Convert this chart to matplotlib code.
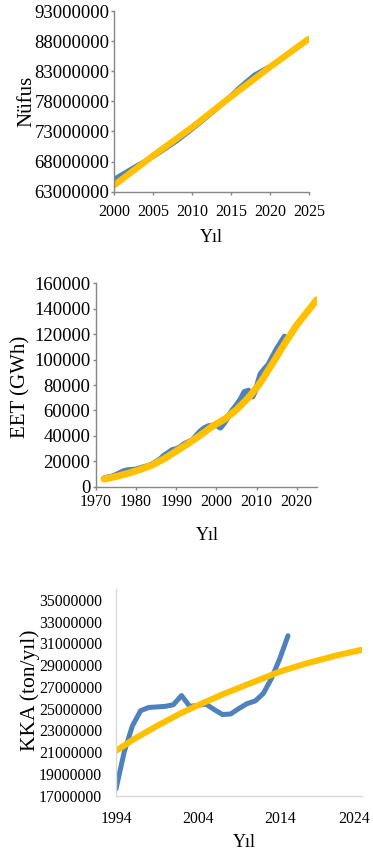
import numpy as np
import matplotlib
matplotlib.use('Agg')
import matplotlib.pyplot as plt
from matplotlib.transforms import ScaledTranslation

plt.rcParams['font.family'] = ['Liberation Serif', 'DejaVu Serif']

BLUE = '#4F81BD'
YELLOW = '#FFC000'

# ---------------- data ----------------
# Panel 1: Nüfus
pop_years = [2000, 2003, 2005, 2008, 2010, 2012, 2014, 2016, 2018, 2020, 2022, 2025]
pop_actual = [65.1e6, 67.4e6, 68.8e6, 71.4e6, 73.4e6, 75.5e6, 77.7e6, 80.2e6, 82.4e6, 83.8e6, 85.6e6, 88.3e6]
pop_fit_years = [2000, 2005, 2010, 2015, 2020, 2025]
pop_fit = [64.1e6, 69.0e6, 73.7e6, 78.8e6, 83.7e6, 88.4e6]

# Panel 2: EET (GWh)
eet_years = list(range(1972, 2018))
eet_actual = [6500, 7300, 8000, 9200, 10800, 12300, 13000, 13200, 13600, 14500,
              15500, 16200, 17600, 19500, 21500, 24500, 26500, 28800, 29500, 31000,
              33500, 35000, 36500, 40000, 43500, 46000, 47500, 48000, 48500, 46500,
              50500, 55500, 60000, 64000, 68500, 74500, 75500, 71000, 78000, 88500,
              92500, 96000, 102000, 108000, 113000, 118000]
eet_fit_years = [1972, 1975, 1978, 1981, 1984, 1987, 1990, 1993, 1996, 1999,
                 2002, 2005, 2008, 2011, 2014, 2017, 2020, 2025]
eet_fit = [6000, 8000, 10500, 13500, 17000, 22000, 28000, 34000, 40500, 47500,
           53000, 60500, 70000, 82000, 97000, 112500, 127000, 147000]

# Panel 3: KKA (ton/yıl)
kka_years = list(range(1994, 2016))
kka_actual = [17.6e6, 21.0e6, 23.4e6, 24.8e6, 25.1e6, 25.15e6, 25.2e6, 25.35e6,
              26.2e6, 25.2e6, 25.3e6, 25.4e6, 24.9e6, 24.45e6, 24.5e6, 25.0e6,
              25.45e6, 25.7e6, 26.4e6, 27.8e6, 29.6e6, 31.7e6]
kka_fit_years = [1994, 1996, 1999, 2002, 2004, 2007, 2009, 2012, 2014, 2017, 2019, 2021, 2024]
kka_fit = [21.1e6, 22.1e6, 23.4e6, 24.6e6, 25.3e6, 26.3e6, 26.9e6, 27.8e6, 28.4e6,
           29.1e6, 29.5e6, 29.9e6, 30.4e6]

W, H = 373, 852
fig = plt.figure(figsize=(W / 100, H / 100), dpi=100)


def px_axes(left, top, right, bottom):
    return fig.add_axes([left / W, 1 - bottom / H, (right - left) / W, (bottom - top) / H])


def style(ax, spine_color, ticks=True):
    for s in ['top', 'right']:
        ax.spines[s].set_visible(False)
    for s in ['left', 'bottom']:
        ax.spines[s].set_color(spine_color)
        ax.spines[s].set_linewidth(1.0)
    ax.tick_params(direction='out', color=spine_color, length=2.5 if ticks else 0, width=1.0)


def plot_pair(ax, x1, y1, x2, y2, lw1, lw2):
    kw = dict(solid_capstyle='round', solid_joinstyle='round')
    ax.plot(x1, y1, color=BLUE, lw=lw1, **kw)
    ax.plot(x2, y2, color=YELLOW, lw=lw2, **kw)


def labels(ax, ylab, yfs, ypos, xpos):
    ax.set_ylabel(ylab, fontsize=yfs)
    ax.set_xlabel('Yıl', fontsize=13)
    ax.yaxis.set_label_coords(*ypos)
    ax.xaxis.set_label_coords(*xpos)
    ax.xaxis.label.set_va('center')
    ax.yaxis.label.set_va('center')


# ---------------- Panel 1 ----------------
ax1 = px_axes(114.3, 11, 309, 191.7)
plot_pair(ax1, pop_years, pop_actual, pop_fit_years, pop_fit, 3.4, 4.6)
ax1.set_xlim(2000, 2025)
ax1.set_ylim(63e6, 93e6)
ax1.set_xticks(range(2000, 2026, 5))
ax1.set_yticks(np.arange(63e6, 93e6 + 1, 5e6))
ax1.yaxis.set_major_formatter(plt.FuncFormatter(lambda v, p: f'{v:.0f}'))
style(ax1, '#868686')
ax1.tick_params(axis='y', labelsize=13.5, pad=1)
ax1.tick_params(axis='x', labelsize=11.5, pad=6)
labels(ax1, 'Nüfus', 15, (-0.45, 0.5), (0.5, -0.256))

# ---------------- Panel 2 ----------------
ax2 = px_axes(96, 283.3, 316.7, 486.7)
plot_pair(ax2, eet_years, eet_actual, eet_fit_years, eet_fit, 4.3, 5.0)
ax2.set_xlim(1970, 2025)
ax2.set_ylim(0, 160000)
ax2.set_xticks(range(1970, 2021, 10))
ax2.set_yticks(range(0, 160001, 20000))
style(ax2, '#868686')
ax2.tick_params(axis='y', labelsize=13.5, pad=1.5)
ax2.tick_params(axis='x', labelsize=11.5, pad=3)
labels(ax2, 'EET (GWh)', 15, (-0.34, 0.49), (0.503, -0.24))

# ---------------- Panel 3 ----------------
ax3 = px_axes(116, 589, 361.7, 795.5)
plot_pair(ax3, kka_years, kka_actual, kka_fit_years, kka_fit, 3.6, 4.4)
ax3.set_xlim(1994, 2024)
ax3.set_ylim(17e6, 36e6)
ax3.set_xticks(range(1994, 2025, 10))
ax3.set_yticks(np.arange(17e6, 35e6 + 1, 2e6))
ax3.yaxis.set_major_formatter(plt.FuncFormatter(lambda v, p: f'{v:.0f}'))
style(ax3, '#D9D9D9', ticks=False)
ax3.tick_params(axis='y', labelsize=11.3, pad=10)
ax3.tick_params(axis='x', labelsize=11.3, pad=11)
labels(ax3, 'KKA (ton/yıl)', 15.5, (-0.35, 0.51), (0.524, -0.23))
# last year label sits inside the figure, as in the original
last = ax3.get_xticklabels()[-1]
last.set_transform(last.get_transform() + ScaledTranslation(-8 / 100, 0, fig.dpi_scale_trans))

fig.savefig('out.png', dpi=100)
